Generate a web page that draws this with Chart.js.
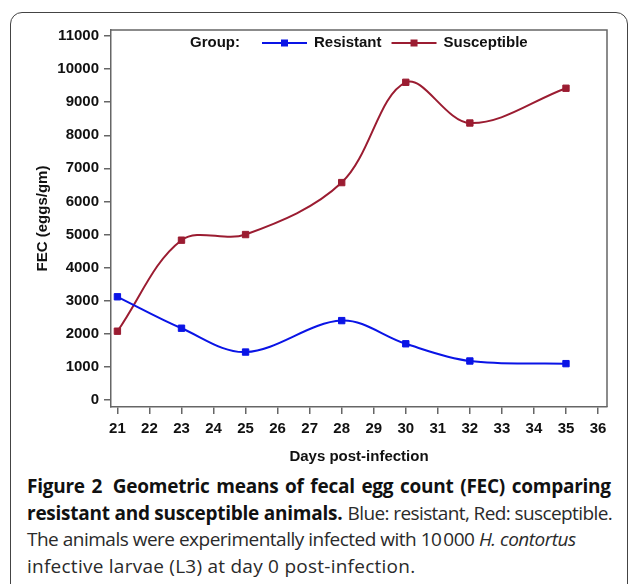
<!DOCTYPE html>
<html>
<head>
<meta charset="utf-8">
<script src="https://cdn.jsdelivr.net/npm/chart.js@4"></script>
<style>
  body { margin: 0; background: #fff; width: 629px; height: 584px; overflow: hidden; position: relative; }
  #frame { position: absolute; left: 10px; top: 12px; width: 616px; height: 600px;
    border: 1px solid #444; border-radius: 12px 12px 0 0; }
  #wrap { position: absolute; left: 0; top: 0; width: 629px; height: 470px; }
  #caption { position: absolute; left: 27px; top: 473px; white-space: nowrap;
    font-family: "Open Sans", sans-serif; font-size: 19px; line-height: 26.5px; color: #2a2a2a;
    letter-spacing: 0.25px; }
  #caption b { color: #111; letter-spacing: -0.25px; }
  #caption .l1 { word-spacing: 2px; }
  #caption .tight { letter-spacing: -0.6px; }
  #caption .l3 { letter-spacing: -0.5px; }
  #caption .gap { margin-left: 4px; }
</style>
</head>
<body>
<div id="frame"></div>
<div id="wrap"><canvas id="chart"></canvas></div>
<div id="caption"><b class="l1">Figure 2<span class="gap"></span> Geometric means of fecal egg count (FEC) comparing</b><br><b>resistant and susceptible animals.</b> <span class="tight">Blue: resistant, Red: susceptible.</span><br><span class="l3">The animals were experimentally infected with 10&#8239;000 <i>H. contortus</i></span><br>infective larvae (L3) at day 0 post-infection.</div>
<script>
const days = [21, 23, 25, 28, 30, 32, 35];
const resistant = [3120, 2170, 1450, 2400, 1700, 1180, 1100];
const susceptible = [2080, 4830, 5000, 6570, 9600, 8370, 9420];
const xTicks = [21, 22, 23, 24, 25, 26, 27, 28, 29, 30, 31, 32, 33, 34, 35, 36];
const yTicks = [0, 1000, 2000, 3000, 4000, 5000, 6000, 7000, 8000, 9000, 10000, 11000];

const blue = "#0a14e6";
const red = "#9b1c31";
const axisColor = "#666";
const font = { family: "Liberation Sans, Arial, sans-serif", size: 15, weight: "bold" };

function pts(ys) {
  return days.map((d, i) => ({ x: d, y: ys[i] }));
}

// frame on top/right of plot + legend inside the plot
const plotExtras = {
  id: "plotExtras",
  afterDraw(chart) {
    const { ctx, chartArea: a } = chart;
    ctx.save();
    ctx.strokeStyle = axisColor;
    ctx.lineWidth = 1.5;
    ctx.beginPath();
    ctx.moveTo(a.left, a.top);
    ctx.lineTo(a.right, a.top);
    ctx.lineTo(a.right, a.bottom);
    ctx.stroke();

    ctx.font = "bold 15px Liberation Sans, Arial, sans-serif";
    ctx.textBaseline = "middle";
    ctx.fillStyle = "#111";
    const y = a.top + 13;
    let x = a.left + 79;
    ctx.fillText("Group:", x, y);
    x = a.left + 151;
    chart.data.datasets.forEach(ds => {
      ctx.strokeStyle = ds.borderColor;
      ctx.lineWidth = 2;
      ctx.beginPath();
      ctx.moveTo(x, y);
      ctx.lineTo(x + 45, y);
      ctx.stroke();
      ctx.fillStyle = ds.pointBackgroundColor;
      ctx.fillRect(x + 19, y - 3.5, 7, 7);
      ctx.fillStyle = "#111";
      ctx.fillText(ds.label, x + 52, y);
      x += 52 + ctx.measureText(ds.label).width + 10;
    });
    ctx.restore();
  }
};

new Chart(document.getElementById("chart"), {
  type: "line",
  data: {
    datasets: [
      { label: "Resistant", data: pts(resistant), borderColor: blue, backgroundColor: blue,
        pointBackgroundColor: blue, pointBorderColor: blue },
      { label: "Susceptible", data: pts(susceptible), borderColor: red, backgroundColor: red,
        pointBackgroundColor: red, pointBorderColor: red }
    ]
  },
  options: {
    responsive: true,
    maintainAspectRatio: false,
    animation: false,
    layout: { padding: { left: 0, top: 30, right: 22, bottom: 0 } },
    elements: {
      line: { borderWidth: 2, tension: 0.35 },
      point: { pointStyle: "rect", radius: 4.5, borderWidth: 1 }
    },
    plugins: { legend: { display: false }, tooltip: { enabled: false } },
    scales: {
      x: {
        type: "linear",
        min: 20.8,
        max: 36.28,
        afterBuildTicks: s => { s.ticks = xTicks.map(v => ({ value: v })); },
        afterFit: s => { s.height = 63; },
        ticks: { font, color: "#111", padding: 6, autoSkip: false, maxRotation: 0,
          callback: v => String(v) },
        grid: { drawOnChartArea: false, drawTicks: true, tickLength: 7, color: axisColor, lineWidth: 1.5 },
        border: { display: true, color: axisColor, width: 1.5 },
        title: { display: true, text: "Days post-infection", font, color: "#111", padding: 4 }
      },
      y: {
        min: -210,
        max: 11180,
        afterBuildTicks: s => { s.ticks = yTicks.map(v => ({ value: v })); },
        afterFit: s => { s.width = 111; },
        ticks: { font, color: "#111", padding: 5, callback: v => String(v) },
        grid: { drawOnChartArea: false, drawTicks: true, tickLength: 7, color: axisColor, lineWidth: 1.5 },
        border: { display: true, color: axisColor, width: 1.5 },
        title: { display: true, text: "FEC (eggs/gm)", font, color: "#111", padding: 34 }
      }
    }
  },
  plugins: [plotExtras]
});
</script>
</body>
</html>
